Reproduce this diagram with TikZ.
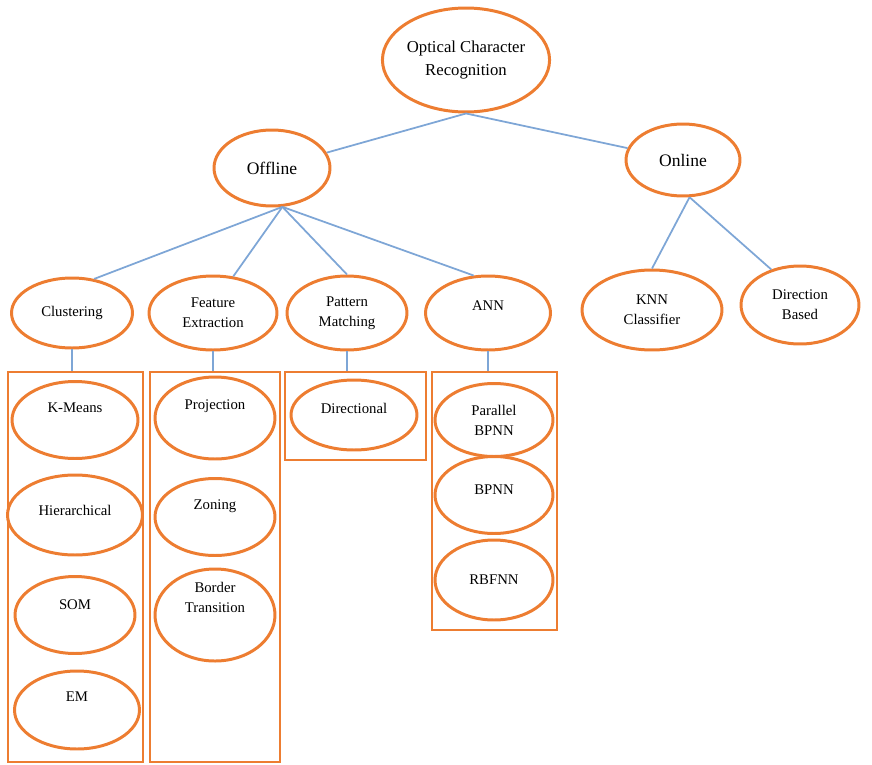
\documentclass[tikz,border=0pt]{standalone}
\usepackage{fontspec}
\setmainfont{Liberation Serif}
\usepackage{tikz}
\usetikzlibrary{shapes.geometric,positioning}
\definecolor{ocrorange}{RGB}{237,125,49}
\definecolor{ocrblue}{RGB}{126,166,214}

\begin{document}
\begin{tikzpicture}[x=0.02cm, y=-0.02cm,
  bub/.style={ellipse, draw=ocrorange, line width=1.7pt, inner sep=0pt, align=center, font=\fontsize{8.4}{11.5}\selectfont, minimum width=2.4cm, minimum height=1.54cm},
  topbub/.style={bub, font=\fontsize{10}{13}\selectfont},
  grp/.style={draw=ocrorange, line width=1.4pt, inner sep=0pt},
  lifted/.style={text depth=#1},
  link/.style={draw=ocrblue, line width=1pt}]
\useasboundingbox (0,0) rectangle (872,764);

\node[topbub, font=\fontsize{9.5}{13}\selectfont, minimum width=3.12cm, minimum height=2.08cm] (ocr) at (466,60) {Optical Character\\Recognition};
\node[topbub, minimum width=2.32cm, minimum height=1.52cm] (off) at (272,168) {Offline};
\node[topbub, minimum width=2.28cm, minimum height=1.44cm] (onl) at (683,160) {Online};

\node[bub, minimum width=2.42cm, minimum height=1.4cm] (clu) at (72,313) {Clustering};
\node[bub, minimum width=2.56cm, minimum height=1.48cm] (fea) at (213,313) {Feature\\Extraction};
\node[bub, minimum height=1.48cm] (pat) at (347,313) {Pattern\\Matching};
\node[bub, lifted=8pt, minimum width=2.5cm, minimum height=1.48cm] (ann) at (488,313) {ANN};
\node[bub, minimum width=2.8cm, minimum height=1.6cm] (knn) at (652,310) {KNN\\Classifier};
\node[bub, minimum width=2.36cm, minimum height=1.56cm] (dir) at (800,305) {Direction\\Based};

\node[grp, minimum width=2.7cm, minimum height=7.8cm] (clbox) at (75.5,567) {};
\node[grp, minimum width=2.6cm, minimum height=7.8cm] (febox) at (215,567) {};
\node[grp, minimum width=2.82cm, minimum height=1.76cm] (pabox) at (355.5,416) {};
\node[grp, minimum width=2.5cm, minimum height=5.16cm] (anbox) at (494.5,501) {};

\node[bub, lifted=13.6pt, minimum width=2.52cm] (kme) at (75,420) {K-Means};
\node[bub, lifted=5.7pt, minimum width=2.7cm, minimum height=1.6cm] (hie) at (75,515) {Hierarchical};
\node[bub, lifted=11.3pt] (som) at (75,615) {SOM};
\node[bub, lifted=14.7pt, minimum width=2.5cm, minimum height=1.56cm] (em) at (77,710) {EM};

\node[bub, lifted=14.7pt, minimum height=1.64cm] (pro) at (215,418) {Projection};
\node[bub, lifted=13.6pt] (zon) at (215,517) {Zoning};
\node[bub, lifted=19.7pt, minimum height=1.6cm] (bor) at (215,615) {Border\\Transition};

\node[bub, lifted=8pt, minimum width=2.52cm, minimum height=1.4cm] (drn) at (354,415) {Directional};

\node[bub, minimum width=2.36cm, minimum height=1.46cm] (pbp) at (494,420) {Parallel\\BPNN};
\node[bub, lifted=5.7pt, minimum width=2.36cm] (bpn) at (494,495) {BPNN};
\node[bub, minimum width=2.36cm, minimum height=1.6cm] (rbf) at (494,580) {RBFNN};

\draw[link] (ocr.south) -- (off);
\draw[link] (ocr.south) -- (onl);
\draw[link] (off.285) -- (clu.57);
\draw[link] (off.285) -- (fea.61);
\draw[link] (off.285) -- (pat.north);
\draw[link] (off.285) -- (ann.111);
\draw[link] (onl.280) -- (knn.north);
\draw[link] (onl.280) -- (dir.129);
\draw[link] (clu.south) -- (clu.south |- clbox.north);
\draw[link] (fea.south) -- (fea.south |- febox.north);
\draw[link] (pat.south) -- (pat.south |- pabox.north);
\draw[link] (ann.south) -- (ann.south |- anbox.north);
\end{tikzpicture}
\end{document}
